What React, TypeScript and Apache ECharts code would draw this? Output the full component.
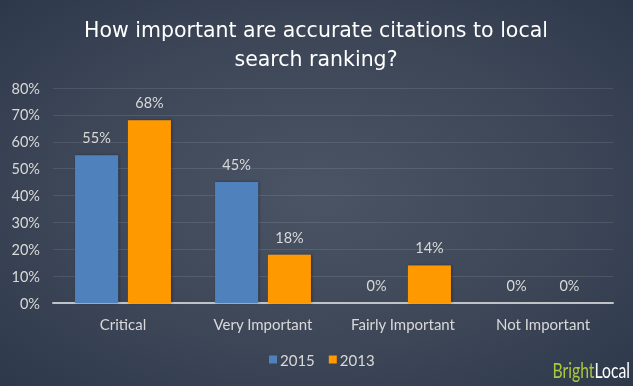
import React, { useEffect, useRef } from "react";
import * as echarts from "echarts";

const categories = ["Critical", "Very Important", "Fairly Important", "Not Important"];
const values2015 = [55, 45, 0, 0];
const values2013 = [68, 18, 14, 0];
const seriesNames = ["2015", "2013"];
const titleText = "How important are accurate citations to local\nsearch ranking?";

export default function App() {
  const ref = useRef<HTMLDivElement>(null);
  useEffect(() => {
    const chart = echarts.init(ref.current!, null, { renderer: "svg" });
    const labelStyle = {
      show: true,
      position: "top",
      distance: 10,
      formatter: "{c}%",
      color: "#d9d9d9",
      fontSize: 14.5,
      fontFamily: "Lato",
    };
    const shadow = {
      shadowBlur: 3,
      shadowColor: "rgba(0,0,0,0.35)",
      shadowOffsetX: 1,
      shadowOffsetY: 0,
    };
    chart.setOption({
      animation: false,
      backgroundColor: new echarts.graphic.RadialGradient(0.5, 0.5, 0.75, [
        { offset: 0, color: "#4a5465" },
        { offset: 0.55, color: "#3c4657" },
        { offset: 1, color: "#2b3649" },
      ]),
      grid: { left: 53, right: 20, top: 88, bottom: 83, containLabel: false },
      legend: {
        data: seriesNames,
        top: 347,
        left: 264,
        itemWidth: 8,
        itemHeight: 8,
        itemGap: 14,
        icon: "rect",
        textStyle: { color: "#d9d9d9", fontSize: 15, fontFamily: "Lato", padding: [0, 0, 0, -2] },
      },
      xAxis: {
        type: "category",
        data: categories,
        axisTick: { show: false },
        axisLine: { lineStyle: { color: "#bfc3c8", width: 2 } },
        axisLabel: { color: "#d9d9d9", fontSize: 15, fontFamily: "Lato", margin: 13 },
      },
      yAxis: {
        type: "value",
        min: 0,
        max: 80,
        interval: 10,
        axisLine: { show: false },
        axisTick: { show: false },
        axisLabel: { color: "#d9d9d9", fontSize: 14.5, fontFamily: "Lato", formatter: "{value}%", margin: 13 },
        splitLine: { lineStyle: { color: "rgba(255,255,255,0.1)", width: 1 } },
      },
      series: [
        {
          name: seriesNames[0],
          type: "bar",
          data: values2015,
          barWidth: 43,
          barGap: "23%",
          itemStyle: { color: "#4f81bd", ...shadow },
          label: labelStyle,
        },
        {
          name: seriesNames[1],
          type: "bar",
          data: values2013,
          barWidth: 43,
          itemStyle: { color: "#ff9900", ...shadow },
          label: labelStyle,
        },
      ],
      graphic: [
        {
          type: "text",
          x: 316,
          y: 15,
          style: {
            text: titleText,
            fill: "#ffffff",
            fontSize: 20.5,
            lineHeight: 29,
            fontFamily: "DejaVu Sans",
            align: "center",
            verticalAlign: "top",
          },
        },
        {
          type: "text",
          x: 630,
          y: 360,
          scaleX: 0.75,
          style: {
            text: "{a|Bright}{b|Local}",
            align: "right",
            verticalAlign: "top",
            rich: {
              a: { fill: "#a9c93c", fontSize: 21, fontFamily: "Lato" },
              b: { fill: "#ffffff", fontSize: 21, fontFamily: "Lato" },
            },
          },
        },
      ],
    });
    return () => chart.dispose();
  }, []);
  return (
    <div
      ref={ref}
      style={{ position: "fixed", left: 0, top: 0, width: 633, height: 386 }}
    />
  );
}
